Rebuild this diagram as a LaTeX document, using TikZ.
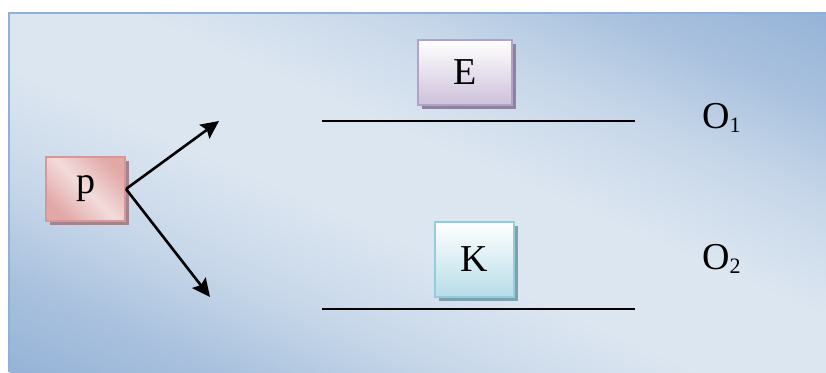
\documentclass[tikz,border=0pt]{standalone}
\usepackage{fontspec}
\setmainfont{Liberation Serif}
\usetikzlibrary{arrows.meta,shadows}
\definecolor{bgdark}{HTML}{95B3D7}
\definecolor{bgmidA}{HTML}{A9C1DE}
\definecolor{bgmidB}{HTML}{C7D7E9}
\definecolor{bglight}{HTML}{DCE6F1}
\definecolor{bgborder}{HTML}{8EB0DC}
\definecolor{pinkdark}{HTML}{E2A8A7}
\definecolor{pinklight}{HTML}{F2DCDB}
\definecolor{pinkborder}{HTML}{D99694}
\definecolor{pinkshadow}{HTML}{A08591}
\definecolor{lavbottom}{HTML}{CCC1DA}
\definecolor{lavborder}{HTML}{B3A2C7}
\definecolor{lavshadow}{HTML}{8B83A0}
\definecolor{cyanbottom}{HTML}{B7DDE8}
\definecolor{cyanborder}{HTML}{93CDDD}
\definecolor{cyanshadow}{HTML}{7FA0AB}
\pgfdeclarehorizontalshading{bgshade}{100bp}{color(0bp)=(bgdark); color(25bp)=(bgdark);
  color(31.5bp)=(bgmidA); color(38.5bp)=(bgmidB); color(46.25bp)=(bglight);
  color(53.75bp)=(bglight); color(61.5bp)=(bgmidB); color(68.5bp)=(bgmidA);
  color(75bp)=(bgdark); color(100bp)=(bgdark)}
\tikzset{
  box/.style={rectangle, line width=2pt, inner sep=0pt,
    font=\fontsize{38}{40}\selectfont},
  boxshadow/.style={general shadow={fill=#1, shadow xshift=4pt, shadow yshift=-4pt}},
  lbl/.style={anchor=base west, inner sep=0pt, font=\fontsize{38}{40}\selectfont},
  levelline/.style={line width=2.4pt, black},
  arr/.style={line width=2.6pt, -{Stealth[length=18pt,width=17pt,inset=3pt]}},
}
\newcommand{\subnum}[1]{\raisebox{-4pt}{\fontsize{22}{24}\selectfont #1}}
\begin{document}
\begin{tikzpicture}[x=1pt,y=-1pt]
\useasboundingbox (0,0) rectangle (826,372);
\fill[white] (0,0) rectangle (826,372);
\begin{scope}
  \clip (9,13) rectangle (826,372);
  \begin{scope}[transform canvas={shift={(417.5,192.5)}, rotate=66.3}]
    \shade[shading=bgshade] (-328.7,-700) rectangle (328.7,700);
  \end{scope}
\end{scope}
\draw[bgborder, line width=2pt] (9,372) -- (9,13) -- (826,13);

\node[box, boxshadow=pinkshadow, draw=pinkborder,
      left color=pinkdark, right color=pinkdark, middle color=pinklight, shading angle=-45,
      minimum width=79pt, minimum height=64pt] (p) at (85.5,189) {p};
\node[box, boxshadow=lavshadow, draw=lavborder, top color=white, bottom color=lavbottom,
      minimum width=94pt, minimum height=65pt] (E) at (465,72.5) {E};
\node[box, boxshadow=cyanshadow, draw=cyanborder, top color=white, bottom color=cyanbottom,
      minimum width=79pt, minimum height=75pt] (K) at (474.5,259.5) {K};

\coordinate (l1a) at (322,121);
\coordinate (l1b) at (635,121);
\coordinate (l2a) at (322,309);
\coordinate (l2b) at (635,309);
\draw[levelline] (l1a) -- (l1b);
\draw[levelline] (l2a) -- (l2b);

\node[lbl] (o1) at (702,128) {O\subnum{1}};
\node[lbl] (o2) at (702,269) {O\subnum{2}};

\coordinate (t1) at (219,121);
\coordinate (t2) at (210,297);
\draw[arr] (p.east) -- (t1);
\draw[arr] (p.east) -- (t2);
\end{tikzpicture}
\end{document}
